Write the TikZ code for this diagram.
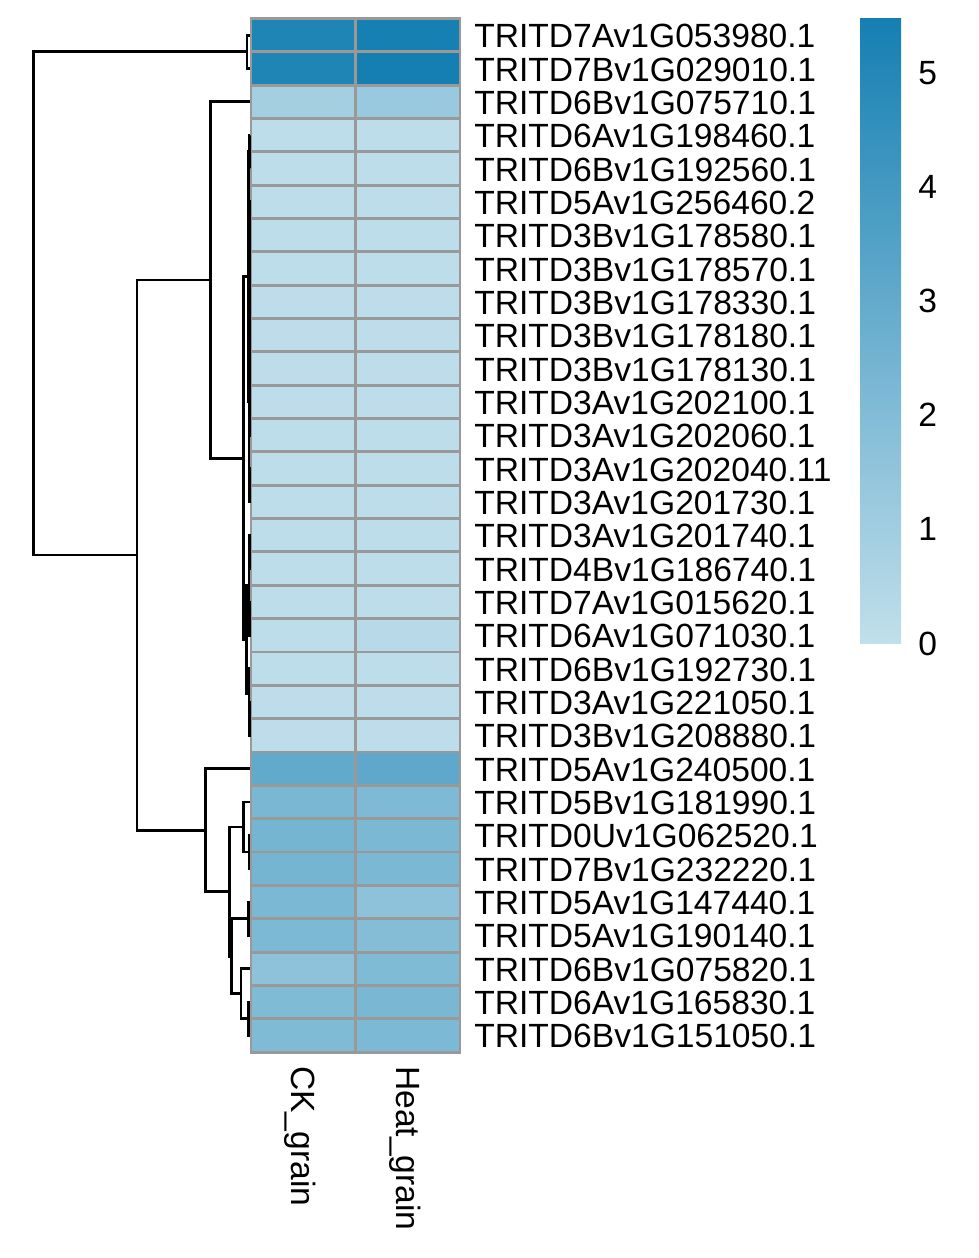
\documentclass[tikz,border=0pt]{standalone}
\usepackage{fontspec}
\setmainfont{Liberation Sans}
\usetikzlibrary{positioning,calc}
\definecolor{hmlow}{RGB}{193,223,235}
\definecolor{hmhigh}{RGB}{21,127,178}
\definecolor{hmborder}{RGB}{153,153,153}

\begin{document}
\begin{tikzpicture}[x=0.75pt, y=-0.75pt, font=\fontsize{25.2}{30}\selectfont]
    \tikzstyle{cell} = [rectangle, draw=hmborder, line width=2.2pt, minimum width=78.4pt, minimum height=25pt, inner sep=0pt]
    \tikzstyle{rowlab} = [anchor=base west, inner sep=0pt]
    \tikzstyle{collab} = [anchor=base west, inner sep=0pt, rotate=-90]
    \tikzstyle{branch} = [line width=2.1pt]
    \useasboundingbox (0,0) rectangle (979,1258);

    % Комірки і підписи рядків
    \foreach \row/\gene/\ck/\heat in {
        1/TRITD7Av1G053980.1/94/99, 2/TRITD7Bv1G029010.1/94/100,
        3/TRITD6Bv1G075710.1/17/23, 4/TRITD6Av1G198460.1/2/2,
        5/TRITD6Bv1G192560.1/2/2, 6/TRITD5Av1G256460.2/2/2,
        7/TRITD3Bv1G178580.1/2/2, 8/TRITD3Bv1G178570.1/2/2,
        9/TRITD3Bv1G178330.1/2/2, 10/TRITD3Bv1G178180.1/2/2,
        11/TRITD3Bv1G178130.1/2/2, 12/TRITD3Av1G202100.1/2/2,
        13/TRITD3Av1G202060.1/2/2, 14/TRITD3Av1G202040.11/2/2,
        15/TRITD3Av1G201730.1/2/2, 16/TRITD3Av1G201740.1/2/2,
        17/TRITD4Bv1G186740.1/2/2, 18/TRITD7Av1G015620.1/2/2,
        19/TRITD6Av1G071030.1/2/5, 20/TRITD6Bv1G192730.1/2/2,
        21/TRITD3Av1G221050.1/2/2, 22/TRITD3Bv1G208880.1/2/2,
        23/TRITD5Av1G240500.1/55/57, 24/TRITD5Bv1G181990.1/42/39,
        25/TRITD0Uv1G062520.1/44/41, 26/TRITD7Bv1G232220.1/44/41,
        27/TRITD5Av1G147440.1/41/30, 28/TRITD5Av1G190140.1/40/35,
        29/TRITD6Bv1G075820.1/30/38, 30/TRITD6Av1G165830.1/38/42,
        31/TRITD6Bv1G151050.1/38/40} {
        \pgfmathsetmacro{\yc}{18.5+33.34*(\row-0.5)}
        \node[cell, fill=hmhigh!\ck!hmlow] (ck\row) at (303.25,\yc) {};
        \node[cell, fill=hmhigh!\heat!hmlow] (heat\row) at (407.75,\yc) {};
        \node[rowlab] (lab\row) at (474,\yc+12.6) {\gene};
        \coordinate (l\row) at (250,\yc);
    }

    % Підписи стовпців
    \node[collab] (cklab) at (291.6,1066) {CK\_grain};
    \node[collab] (heatlab) at (396.3,1066) {Heat\_grain};

    % Дендрограма
    \coordinate (n12) at (247,51.84);
    \coordinate (n45) at (249.3,151.86);
    \coordinate (n67) at (249.8,218.54);
    \coordinate (n89) at (249.8,285.22);
    \coordinate (n69) at (249.6,251.88);
    \coordinate (n1011) at (249.8,351.90);
    \coordinate (n1213) at (249.8,418.58);
    \coordinate (n1013) at (249.6,385.24);
    \coordinate (n613) at (249.4,318.56);
    \coordinate (n1415) at (249.7,485.26);
    \coordinate (n615) at (248.9,401.91);
    \coordinate (nA) at (248.3,276.89);
    \coordinate (n1617) at (249.7,551.94);
    \coordinate (n1819) at (249.5,618.62);
    \coordinate (n1619) at (249.0,585.28);
    \coordinate (n2122) at (249.8,718.64);
    \coordinate (n2022) at (249.0,693.64);
    \coordinate (nB) at (246.7,639.46);
    \coordinate (nL) at (243.3,458.18);
    \coordinate (n3L) at (210.5,280.02);
    \coordinate (n2526) at (249,852.0);
    \coordinate (nE) at (243.3,827.0);
    \coordinate (n2728) at (248.3,918.68);
    \coordinate (n3031) at (248.3,1018.70);
    \coordinate (nG) at (241,993.70);
    \coordinate (nF) at (231.7,956.19);
    \coordinate (nD) at (229.3,891.60);
    \coordinate (nC) at (205.7,830.13);
    \coordinate (nM) at (137,555.08);
    \coordinate (root) at (33.5,303.46);

    \foreach \p/\a/\b in {n12/l1/l2, n45/l4/l5, n67/l6/l7, n89/l8/l9, n69/n67/n89,
        n1011/l10/l11, n1213/l12/l13, n1013/n1011/n1213, n613/n69/n1013,
        n1415/l14/l15, n615/n613/n1415, nA/n45/n615, n1617/l16/l17,
        n1819/l18/l19, n1619/n1617/n1819, n2122/l21/l22, n2022/l20/n2122,
        nB/n1619/n2022, nL/nA/nB, n3L/l3/nL, n2526/l25/l26, nE/l24/n2526,
        n2728/l27/l28, n3031/l30/l31, nG/l29/n3031, nF/n2728/nG, nD/nE/nF,
        nC/l23/nD, nM/n3L/nC, root/n12/nM}
        \draw[branch] (\a) -| (\p) |- (\b);

    % Легенда
    \node[inner sep=0pt, minimum width=30.75pt, minimum height=468.4pt, top color=hmhigh, bottom color=hmlow] (legend) at (880.5,330.75) {};
    \foreach \v in {0,...,5}
        \node[rowlab] (tick\v) at (918,{643-114.2*\v+12}) {\v};
\end{tikzpicture}
\end{document}
